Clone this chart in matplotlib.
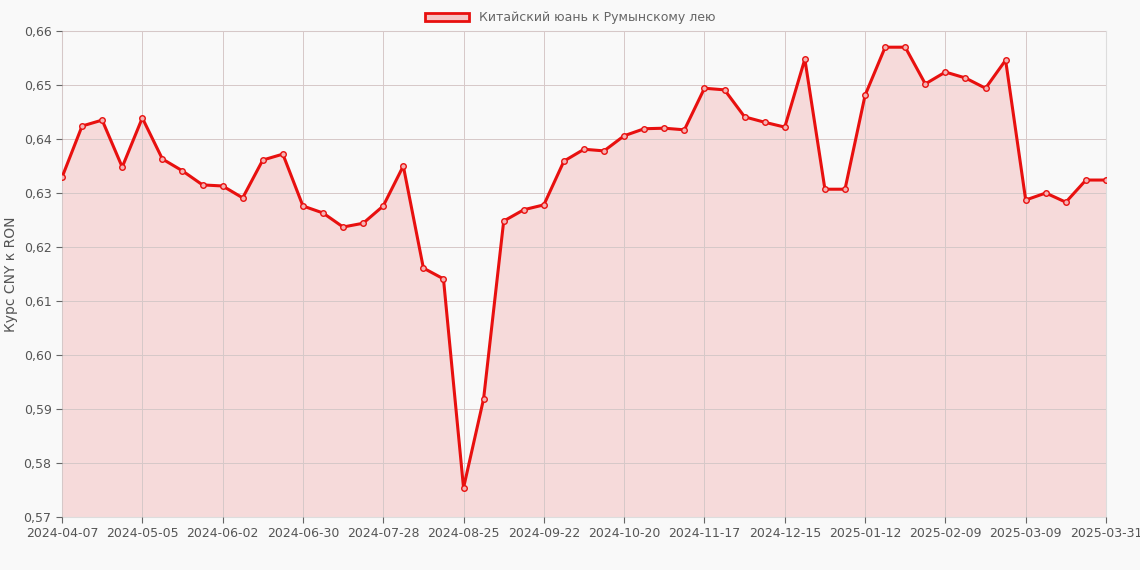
import matplotlib
matplotlib.use("Agg")
import numpy as np
import pandas as pd
from matplotlib import pyplot as plt
from matplotlib.patches import Patch

# Weekly labels plus the final date
dates = [d.strftime("%Y-%m-%d") for d in pd.date_range("2024-04-07", periods=52, freq="7D")]
dates.append("2025-03-31")

rates = [
    0.6329, 0.6424, 0.6435, 0.6348, 0.6439, 0.6363, 0.6341, 0.6315, 0.6313, 0.6291,
    0.6361, 0.6372, 0.6276, 0.6263, 0.6237, 0.6244, 0.6276, 0.6350, 0.6161, 0.6141,
    0.5754, 0.5919, 0.6248, 0.6269, 0.6278, 0.6359, 0.6381, 0.6378, 0.6406, 0.6419,
    0.6420, 0.6417, 0.6494, 0.6491, 0.6441, 0.6431, 0.6422, 0.6548, 0.6307, 0.6307,
    0.6481, 0.6570, 0.6570, 0.6502, 0.6524, 0.6513, 0.6494, 0.6546, 0.6287, 0.6300,
    0.6283, 0.6324, 0.6324,
]

bg = "#f9f9f9"
red = "#e8100f"
fig = plt.figure(figsize=(11.4, 5.7), dpi=100, facecolor=bg)
ax = fig.add_axes([62 / 1140, 1 - 517 / 570, (1106 - 62) / 1140, (517 - 31) / 570])
ax.set_facecolor(bg)

x = np.arange(len(rates))
ax.fill_between(x, rates, 0.57, color="#f5c6c6", alpha=0.6, lw=0, zorder=1)
ax.grid(True, color="#d6c8c8", lw=0.7, zorder=1.5)
ax.set_axisbelow(False)
ax.plot(x, rates, color=red, lw=2.2, marker="o", ms=4, mfc="#f4b4b4", mec=red, mew=1, zorder=3)

ax.set_xlim(0, len(rates) - 1)
ax.set_ylim(0.57, 0.66)
ticks = list(range(0, len(rates) - 1, 4)) + [len(rates) - 1]
ax.set_xticks(ticks)
ax.set_xticklabels([dates[i] for i in ticks])
yt = np.arange(0.57, 0.6601, 0.01)
ax.set_yticks(yt)
ax.set_yticklabels([f"{v:.2f}".replace(".", ",") for v in yt])
ax.tick_params(colors="#666666", labelsize=9, length=4)
for lbl in ax.get_xticklabels() + ax.get_yticklabels():
    lbl.set_color("#555555")
for s in ax.spines.values():
    s.set_color("#dddddd")
ax.set_ylabel("Курс CNY к RON", color="#555555", fontsize=10)

fig.legend(handles=[Patch(facecolor="#f5c6c6", edgecolor=red, lw=2,
                          label="Китайский юань к Румынскому лею")],
           loc="upper center", bbox_to_anchor=(0.5, 1.0), frameon=False,
           fontsize=9, labelcolor="#666666", handlelength=3.5)

fig.savefig("out.png", facecolor=bg)
